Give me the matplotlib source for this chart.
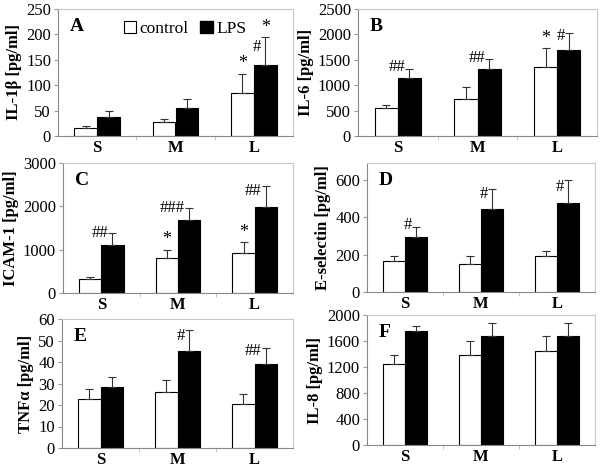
import matplotlib
matplotlib.use("Agg")
import matplotlib.pyplot as plt
import numpy as np
from matplotlib.patches import Patch

plt.rcParams['font.family'] = 'serif'
plt.rcParams['font.serif'] = ['Liberation Serif', 'DejaVu Serif']

groups = ["S", "M", "L"]

il1b_ctrl = [15, 28, 85]; il1b_ctrl_err = [4, 6, 38]
il1b_lps = [37, 55, 140]; il1b_lps_err = [12, 17, 55]

il6_ctrl = [550, 730, 1360]; il6_ctrl_err = [60, 230, 370]
il6_lps = [1150, 1310, 1690]; il6_lps_err = [170, 210, 330]

icam_ctrl = [320, 800, 930]; icam_ctrl_err = [50, 200, 250]
icam_lps = [1100, 1680, 1990]; icam_lps_err = [290, 280, 480]

esel_ctrl = [165, 150, 190]; esel_ctrl_err = [30, 40, 30]
esel_lps = [295, 445, 475]; esel_lps_err = [55, 105, 125]

tnf_ctrl = [23, 26, 20.5]; tnf_ctrl_err = [4.5, 5.5, 4.5]
tnf_lps = [28.5, 45, 39]; tnf_lps_err = [4.5, 10, 7.5]

il8_ctrl = [1250, 1380, 1450]; il8_ctrl_err = [140, 220, 220]
il8_lps = [1750, 1680, 1670]; il8_lps_err = [80, 190, 200]

# annotations: (group index, series 0=control 1=LPS, text)
ann_A = [(2, 0, "*"), (2, 1, "#"), (2, 1, "*")]
ann_B = [(0, 1, "##"), (1, 1, "##"), (2, 0, "*"), (2, 1, "#")]
ann_C = [(0, 1, "##"), (1, 0, "*"), (1, 1, "###"), (2, 0, "*"), (2, 1, "##")]
ann_D = [(0, 1, "#"), (1, 1, "#"), (2, 1, "#")]
ann_E = [(1, 1, "#"), (2, 1, "##")]
ann_F = []

W, H = 600, 467
fig = plt.figure(figsize=(6, 4.67), dpi=100)

def axbox(l, r, t, b):
    return [l / W, 1 - b / H, (r - l) / W, (b - t) / H]

panels = [
    ("A", "IL-1β [pg/ml]", il1b_ctrl, il1b_ctrl_err, il1b_lps, il1b_lps_err, (0, 250), np.arange(0, 251, 50), ann_A, axbox(58, 293, 9, 136)),
    ("B", "IL-6 [pg/ml]", il6_ctrl, il6_ctrl_err, il6_lps, il6_lps_err, (0, 2500), np.arange(0, 2501, 500), ann_B, axbox(358, 597, 9, 136)),
    ("C", "ICAM-1 [pg/ml]", icam_ctrl, icam_ctrl_err, icam_lps, icam_lps_err, (0, 3000), np.arange(0, 3001, 1000), ann_C, axbox(63, 293, 163, 293)),
    ("D", "E-selectin [pg/ml]", esel_ctrl, esel_ctrl_err, esel_lps, esel_lps_err, (0, 690), np.arange(0, 601, 200), ann_D, axbox(367, 595, 163, 292)),
    ("E", "TNFα [pg/ml]", tnf_ctrl, tnf_ctrl_err, tnf_lps, tnf_lps_err, (0, 60), np.arange(0, 61, 10), ann_E, axbox(62, 293, 319, 448)),
    ("F", "IL-8 [pg/ml]", il8_ctrl, il8_ctrl_err, il8_lps, il8_lps_err, (0, 2000), np.arange(0, 2001, 400), ann_F, axbox(367, 595, 315, 445)),
]

bw = 0.29
x = np.arange(len(groups))
for letter, ylabel, c, ce, l, le, ylim, yt, anns, box in panels:
    ax = fig.add_axes(box)
    ax.bar(x - bw / 2, c, bw, color="white", edgecolor="black", linewidth=0.8, zorder=2)
    ax.bar(x + bw / 2, l, bw, color="black", edgecolor="black", linewidth=0.8, zorder=2)
    ax.errorbar(x - bw / 2, c, yerr=[np.zeros(3), ce], fmt="none", ecolor="#333333", elinewidth=0.8, capsize=3, capthick=0.8, zorder=3)
    ax.errorbar(x + bw / 2, l, yerr=[np.zeros(3), le], fmt="none", ecolor="#333333", elinewidth=0.8, capsize=3, capthick=0.8, zorder=3)
    ax.set_xlim(-0.5, 2.5)
    ax.set_ylim(*ylim)
    ax.set_yticks(yt)
    ax.set_xticks(x)
    ax.set_xticklabels(groups, fontweight="bold", fontsize=12)
    ax.tick_params(axis="x", length=0, pad=3)
    ax.set_xticks([0.5, 1.5], minor=True)
    ax.tick_params(axis="x", which="minor", length=3, color="#bbbbbb")
    ax.tick_params(axis="y", labelsize=12, length=3, color="#999999", pad=2)
    for s in ax.spines.values():
        s.set_color("#c8c8c8")
        s.set_linewidth(0.8)
    ax.spines["left"].set_color("#888888")
    ax.spines["bottom"].set_color("#888888")
    ax.set_ylabel(ylabel, fontweight="bold", fontsize=12, labelpad=3)
    ax.text(0.05, 0.93, letter, transform=ax.transAxes, fontweight="bold", fontsize=14, va="top", ha="left")
    span = ylim[1] - ylim[0]
    for gi, si, txt in anns:
        val = c[gi] if si == 0 else l[gi]
        err = ce[gi] if si == 0 else le[gi]
        xpos = gi - bw / 2 if si == 0 else gi + bw / 2
        if txt == "*":
            ax.text(xpos, val + err + 0.01 * span, "*", ha="center", va="bottom", fontsize=13)
        else:
            ax.text(xpos - 0.05, val + 0.35 * err, txt, ha="right", va="bottom", fontsize=12)
    if letter == "A":
        handles = [Patch(facecolor="white", edgecolor="black", linewidth=0.8), Patch(facecolor="black", edgecolor="black")]
        ax.legend(handles, ["control", "LPS"], loc="upper center", bbox_to_anchor=(0.54, 1.03), ncol=2, frameon=False,
                  fontsize=12.5, handlelength=0.7, handleheight=0.7, handletextpad=0.2, columnspacing=0.7)

fig.savefig("out.png", dpi=100)
